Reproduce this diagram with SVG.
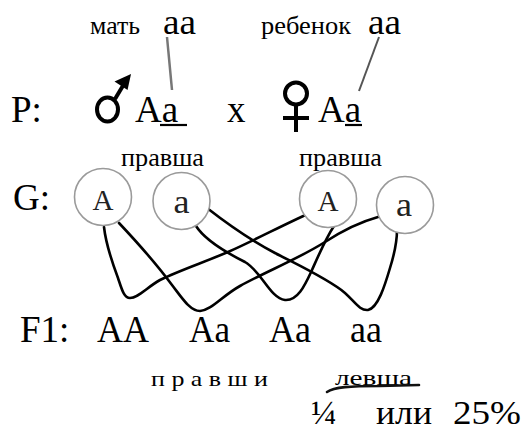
<svg xmlns="http://www.w3.org/2000/svg" width="523" height="432" viewBox="0 0 523 432">
<style>
text{font-family:"Liberation Serif","Times New Roman",serif;fill:#000}
.big{font-size:37px}
.med{font-size:36px}
.sm{font-size:26px}
.xs{font-size:22px}
.g{font-size:30px;fill:#222}
.gam{fill:#fff;stroke:#9a9a9a;stroke-width:1.6}
.wire{fill:none;stroke:#000;stroke-width:2.6;stroke-linecap:round;stroke-linejoin:round}
.sym{fill:none;stroke:#000;stroke-width:4}
</style>
<rect width="523" height="432" fill="#fff"/>

<!-- header labels -->
<text class="sm" x="90" y="34" textLength="50" lengthAdjust="spacingAndGlyphs">мать</text>
<text class="med" x="163" y="34" textLength="33" lengthAdjust="spacingAndGlyphs">aa</text>
<text class="sm" x="261" y="34" textLength="90" lengthAdjust="spacingAndGlyphs">ребенок</text>
<text class="med" x="368" y="34" textLength="33" lengthAdjust="spacingAndGlyphs">aa</text>
<line x1="167" y1="37" x2="172" y2="90" stroke="#777" stroke-width="2.5"/>
<line x1="379" y1="37" x2="359" y2="91" stroke="#555" stroke-width="2"/>

<!-- P row -->
<text class="big" x="11" y="122">P:</text>
<g id="male-symbol">
<ellipse class="sym" cx="107.5" cy="109.5" rx="10.5" ry="12"/>
<line class="sym" x1="115" y1="99" x2="124" y2="84"/>
<polygon points="131,74 114.5,81.5 127.5,90" fill="#000"/>
</g>
<text class="big" x="135" y="122">Aa</text>
<line x1="160" y1="125" x2="187" y2="125" stroke="#000" stroke-width="2.2"/>
<text class="big" x="227" y="122">x</text>
<g id="female-symbol">
<circle class="sym" cx="296" cy="93.5" r="11"/>
<line class="sym" x1="296" y1="105" x2="296" y2="132"/>
<line class="sym" x1="283" y1="118" x2="309" y2="118"/>
</g>
<text class="big" x="318" y="122">Aa</text>
<line x1="345" y1="125" x2="362" y2="125" stroke="#000" stroke-width="2.2"/>

<text class="sm" x="121" y="166" textLength="83" lengthAdjust="spacingAndGlyphs">правша</text>
<text class="sm" x="299" y="166" textLength="83" lengthAdjust="spacingAndGlyphs">правша</text>

<!-- G row -->
<text class="big" x="13" y="210">G:</text>

<g id="connectors">
<path class="wire" d="M104,227 C106,245 112,262 118,278 C122,290 124,298 130,298 C138,298 146,288 160,280 C180,270 205,262 228,252 C255,240 285,224 310,213"/>
<path class="wire" d="M119,223 C135,240 155,262 172,285 C182,298 190,311 200,311 C212,310 222,296 240,286 C265,272 300,258 325,242 C345,229 360,222 378,217"/>
<path class="wire" d="M196,226 C205,240 225,252 245,262 C262,272 270,298 285,300 C298,301 305,285 312,270 C320,252 326,238 334,226"/>
<path class="wire" d="M207,208 C225,222 250,240 275,253 C300,266 330,280 345,293 C355,302 360,311 368,310 C378,308 385,285 390,268 C395,252 397,240 397,230"/>
</g>

<g id="gamete-A1">
<circle class="gam" cx="103" cy="197" r="28.5"/>
<text class="g" x="103" y="210" text-anchor="middle" textLength="21" lengthAdjust="spacingAndGlyphs">A</text>
</g>
<g id="gamete-a1">
<circle class="gam" cx="181.5" cy="201" r="28.5"/>
<text class="g" x="181.5" y="213" text-anchor="middle" textLength="16" lengthAdjust="spacingAndGlyphs" style="font-size:34px">a</text>
</g>
<g id="gamete-A2">
<circle class="gam" cx="328" cy="199" r="28.5"/>
<text class="g" x="328" y="211" text-anchor="middle" textLength="21" lengthAdjust="spacingAndGlyphs">A</text>
</g>
<g id="gamete-a2">
<circle class="gam" cx="405" cy="205" r="28.5"/>
<text class="g" x="404" y="216" text-anchor="middle" textLength="16" lengthAdjust="spacingAndGlyphs" style="font-size:34px">a</text>
</g>

<!-- F1 row -->
<text class="big" x="20" y="342">F1:</text>
<text class="big" x="97" y="342" textLength="52" lengthAdjust="spacingAndGlyphs">AA</text>
<text class="big" x="189" y="342" textLength="41" lengthAdjust="spacingAndGlyphs">Aa</text>
<text class="big" x="269" y="342" textLength="42" lengthAdjust="spacingAndGlyphs">Aa</text>
<text class="big" x="350" y="342" textLength="32" lengthAdjust="spacingAndGlyphs">aa</text>

<text class="xs" x="151" y="386" textLength="117" lengthAdjust="spacingAndGlyphs">п р а в ш и</text>
<text class="xs" x="335" y="385" textLength="77" lengthAdjust="spacingAndGlyphs">левша</text>
<path d="M327,392 C334,387 350,386 380,386 L419,385" fill="none" stroke="#111" stroke-width="2.6" stroke-linecap="round"/>

<text x="311" y="424" style="font-size:34px">¼</text>
<text x="376" y="424" style="font-size:34px" textLength="56" lengthAdjust="spacingAndGlyphs">или</text>
<text x="453" y="424" style="font-size:34px" textLength="68" lengthAdjust="spacingAndGlyphs">25%</text>
</svg>
